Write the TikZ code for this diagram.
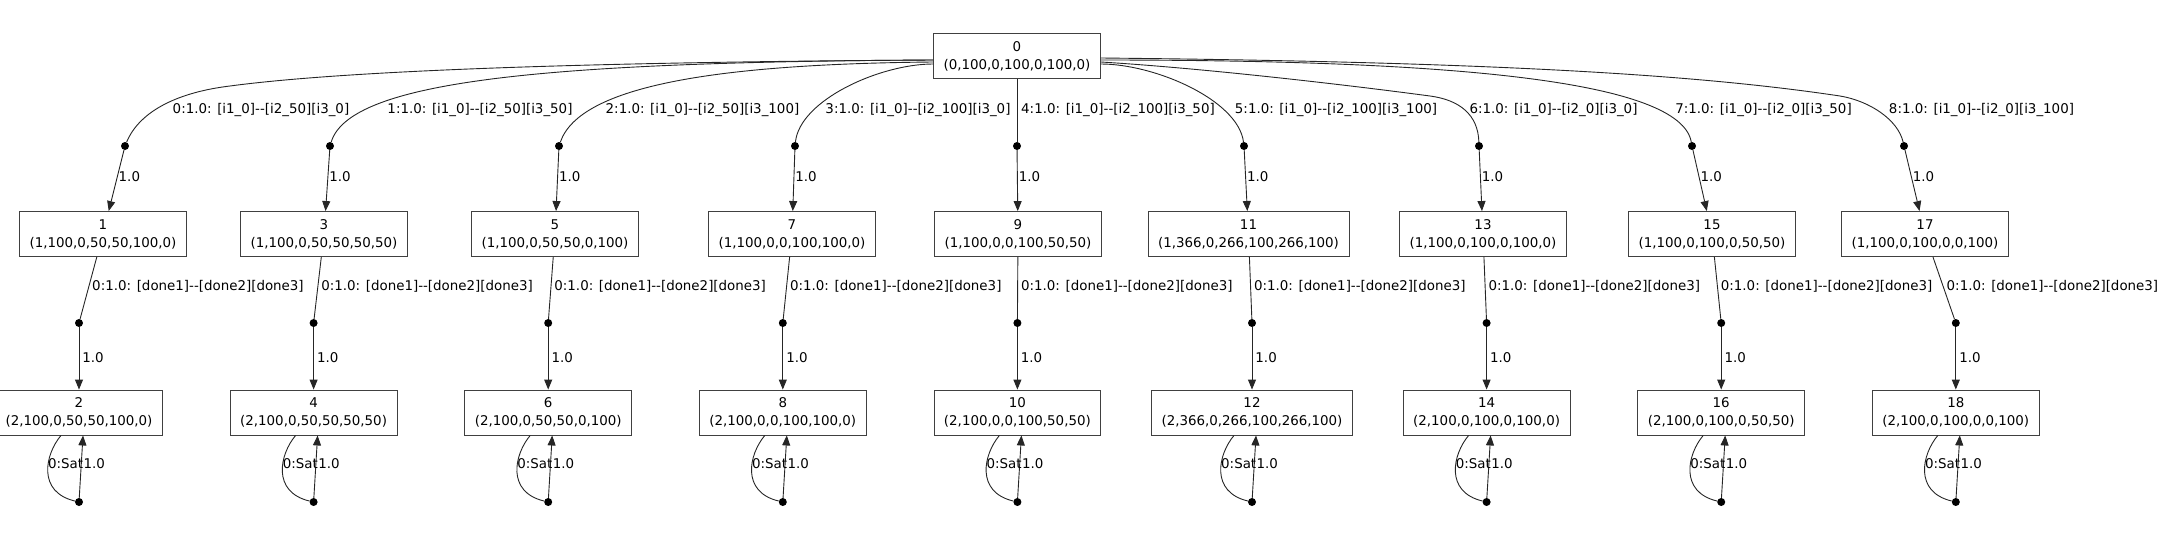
\documentclass[tikz,border=0pt]{standalone}
\usepackage{fontspec}
\setmainfont{DejaVu Sans}
\usetikzlibrary{arrows.meta}
\begin{document}
\begin{tikzpicture}[x=1pt,y=-1pt,
  state/.style={draw=black!75, line width=0.9pt, align=center, inner xsep=10pt, inner ysep=0pt,
    minimum height=45pt, fill=white, font=\fontsize{13.4}{18}\selectfont},
  pdot/.style={circle, fill=black, inner sep=0pt, minimum size=8pt},
  edge/.style={draw=black!85, line width=0.9pt},
  arr/.style={edge, -{Triangle[length=10pt,width=8pt]}},
  lbl/.style={font=\fontsize{13.4}{16}\selectfont, inner sep=0pt}]
\useasboundingbox (0,0) rectangle (2160,544);
% states
\node[state] (s0) at (1017,56) {0\\(0,100,0,100,0,100,0)};
\node[state] (s1) at (103,234) {1\\(1,100,0,50,50,100,0)};
\node[state] (s3) at (324,234) {3\\(1,100,0,50,50,50,50)};
\node[state] (s5) at (555,234) {5\\(1,100,0,50,50,0,100)};
\node[state] (s7) at (792,234) {7\\(1,100,0,0,100,100,0)};
\node[state] (s9) at (1018,234) {9\\(1,100,0,0,100,50,50)};
\node[state] (s11) at (1248.5,234) {11\\(1,366,0,266,100,266,100)};
\node[state] (s13) at (1483,234) {13\\(1,100,0,100,0,100,0)};
\node[state] (s15) at (1712,234) {15\\(1,100,0,100,0,50,50)};
\node[state] (s17) at (1925,234) {17\\(1,100,0,100,0,0,100)};
\node[state] (s2) at (79,412.5) {2\\(2,100,0,50,50,100,0)};
\node[state] (s4) at (313.6,412.5) {4\\(2,100,0,50,50,50,50)};
\node[state] (s6) at (548.2,412.5) {6\\(2,100,0,50,50,0,100)};
\node[state] (s8) at (782.8,412.5) {8\\(2,100,0,0,100,100,0)};
\node[state] (s10) at (1017.4,412.5) {10\\(2,100,0,0,100,50,50)};
\node[state] (s12) at (1252,412.5) {12\\(2,366,0,266,100,266,100)};
\node[state] (s14) at (1486.6,412.5) {14\\(2,100,0,100,0,100,0)};
\node[state] (s16) at (1721.2,412.5) {16\\(2,100,0,100,0,50,50)};
\node[state] (s18) at (1955.8,412.5) {18\\(2,100,0,100,0,0,100)};
% top dots
\foreach \k/\x in {1/125,3/330,5/559,7/795,9/1017,11/1244,13/1479,15/1692,17/1904}
  \node[pdot] (a\k) at (\x,146) {};
% middle and bottom dots
\foreach \k/\x in {2/79,4/313.6,6/548.2,8/782.8,10/1017.4,12/1252,14/1486.6,16/1721.2,18/1955.8}{
  \node[pdot] (m\k) at (\x,323) {};
  \node[pdot] (c\k) at (\x,502) {};
}
% edges from root
\draw[edge] ([yshift=-4pt]s0.west) .. controls (600,62) and (350,70) .. (230,86) .. controls (180,92) and (140,110) .. (a1);
\draw[edge] ([yshift=-4pt]s0.west) .. controls (550,62) and (350,80) .. (a3);
\draw[edge] ([yshift=-6pt]s0.west) .. controls (720,64) and (580,85) .. (a5);
\draw[edge] ([yshift=-8pt]s0.west) .. controls (880,64) and (800,100) .. (a7);
\draw[edge] (s0) -- (a9);
\draw[edge] ([yshift=-8pt]s0.east) .. controls (1155,64) and (1238,100) .. (a11);
\draw[edge] ([yshift=-6pt]s0.east) .. controls (1200,68) and (1340,84) .. (1430,96) .. controls (1460,100) and (1478,115) .. (a13);
\draw[edge] ([yshift=-4pt]s0.east) .. controls (1450,60) and (1680,80) .. (a15);
\draw[edge] ([yshift=-2pt]s0.east) .. controls (1500,62) and (1700,75) .. (1840,96) .. controls (1870,101) and (1898,120) .. (a17);
% root edge labels
\node[lbl] (l0) at (261,110) {0:1.0: [i1\_0]-{}-[i2\_50][i3\_0]};
\node[lbl] (l1) at (480,110) {1:1.0: [i1\_0]-{}-[i2\_50][i3\_50]};
\node[lbl] (l2) at (702.5,110) {2:1.0: [i1\_0]-{}-[i2\_50][i3\_100]};
\node[lbl] (l3) at (918,110) {3:1.0: [i1\_0]-{}-[i2\_100][i3\_0]};
\node[lbl] (l4) at (1118,110) {4:1.0: [i1\_0]-{}-[i2\_100][i3\_50]};
\node[lbl] (l5) at (1336,110) {5:1.0: [i1\_0]-{}-[i2\_100][i3\_100]};
\node[lbl] (l6) at (1553.5,110) {6:1.0: [i1\_0]-{}-[i2\_0][i3\_0]};
\node[lbl] (l7) at (1763.5,110) {7:1.0: [i1\_0]-{}-[i2\_0][i3\_50]};
\node[lbl] (l8) at (1981.5,110) {8:1.0: [i1\_0]-{}-[i2\_0][i3\_100]};
% lower edges
\foreach \i in {1,3,5,7,9,11,13,15,17}{
  \pgfmathtruncatemacro\j{\i+1}
  \draw[arr] (a\i) -- node[lbl, pos=0.44, anchor=west, xshift=1pt] {1.0} (s\i);
  \draw[edge] (s\i) -- node[lbl, pos=0.48, anchor=west, xshift=3pt] {0:1.0: [done1]-{}-[done2][done3]} (m\j);
  \draw[arr] (m\j) -- node[lbl, pos=0.48, anchor=west, xshift=3pt] {1.0} (s\j);
  \draw[edge] ([xshift=-18pt]s\j.south) .. controls +(-16,19) and +(-42,-10) .. (c\j);
  \draw[arr] (c\j) -- ([xshift=4pt]s\j.south);
  \node[lbl, anchor=west] at ([shift={(-31,-38)}]c\j) {0:Sat};
  \node[lbl, anchor=west] at ([shift={(4.5,-38)}]c\j) {1.0};
}
\end{tikzpicture}
\end{document}
